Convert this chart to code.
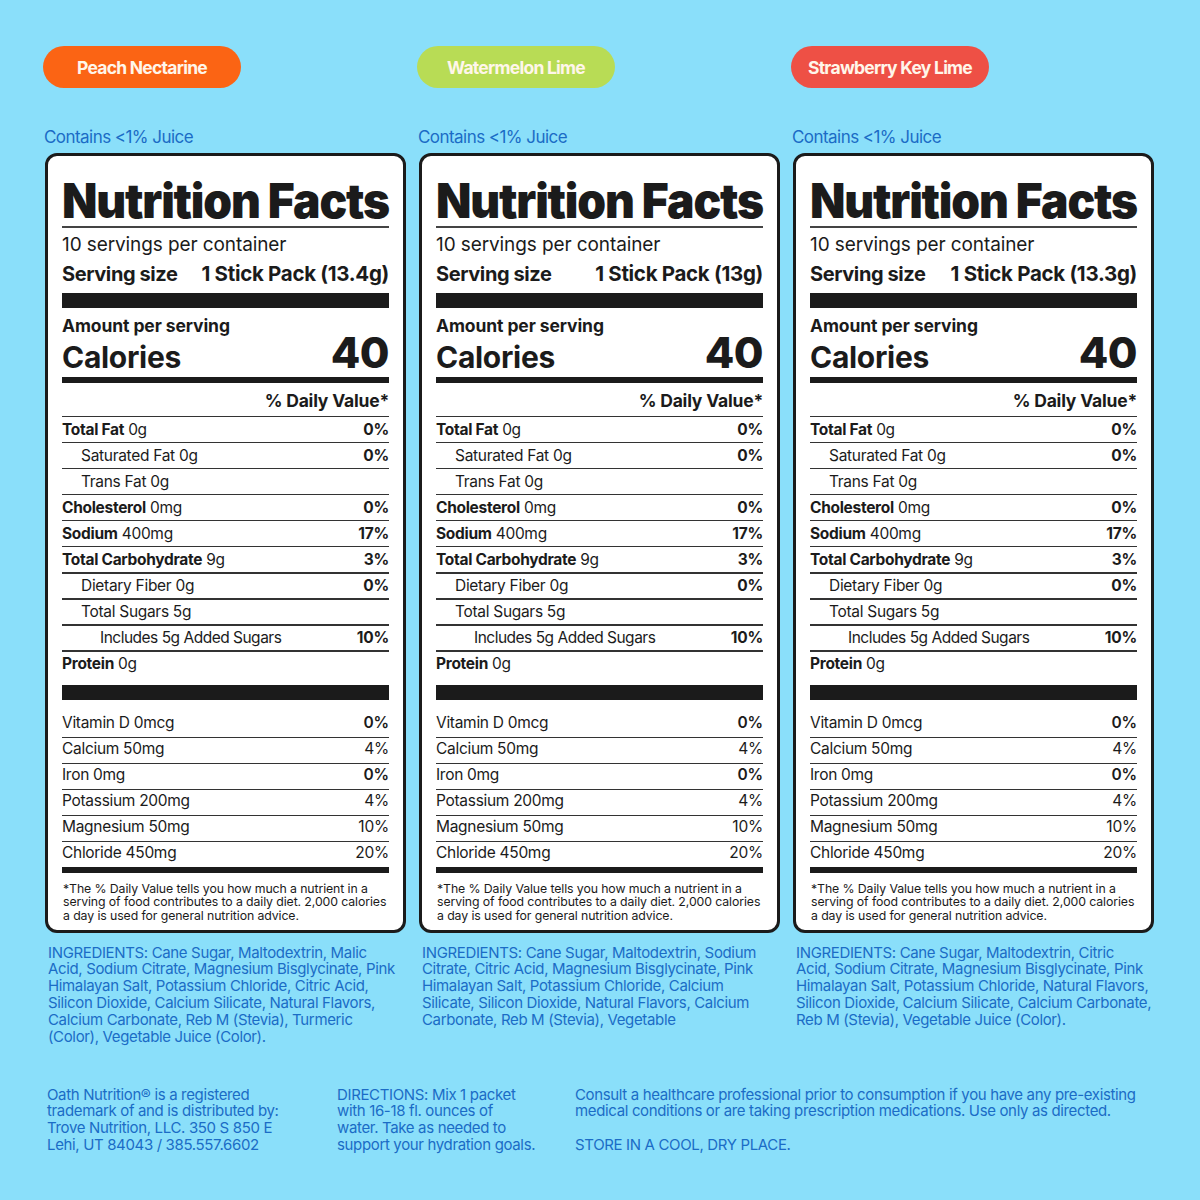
<!DOCTYPE html>
<html>
<head>
<meta charset="utf-8">
<script src="https://cdn.jsdelivr.net/npm/chart.js@4.4.1/dist/chart.umd.min.js"></script>
<style>
    html, body { margin: 0; padding: 0; }
    body { width: 1200px; height: 1200px; background: #8adffa; position: relative; overflow: hidden; font-family: Inter, "Noto Sans", sans-serif; }
    .abs { position: absolute; }
    .t { position: absolute; white-space: nowrap; height: 0; }
    b { font-weight: 700; }
</style>
</head>
<body>
<script>
// label data
const flavors = ['Peach Nectarine', 'Watermelon Lime', 'Strawberry Key Lime'];
const juiceNote = 'Contains <1% Juice';
const servingsText = '10 servings per container';
const servingSizes = ['1 Stick Pack (13.4g)', '1 Stick Pack (13g)', '1 Stick Pack (13.3g)'];
const calories = 40;

const nutrients = ['Total Fat', 'Saturated Fat', 'Trans Fat', 'Cholesterol', 'Sodium', 'Total Carbohydrate', 'Dietary Fiber', 'Total Sugars', 'Includes 5g Added Sugars', 'Protein'];
const nutrientAmounts = ['0g', '0g', '0g', '0mg', '400mg', '9g', '0g', '5g', '', '0g'];
const nutrientDV = ['0%', '0%', '', '0%', '17%', '3%', '0%', '', '10%', ''];
const nutrientLevel = [0, 1, 1, 0, 0, 0, 1, 1, 2, 0];

const minerals = ['Vitamin D', 'Calcium', 'Iron', 'Potassium', 'Magnesium', 'Chloride'];
const mineralAmounts = ['0mcg', '50mg', '0mg', '200mg', '50mg', '450mg'];
const mineralDV = ['0%', '4%', '0%', '4%', '10%', '20%'];

const footnote = [
    '*The % Daily Value tells you how much a nutrient in a',
    'serving of food contributes to a daily diet. 2,000 calories',
    'a day is used for general nutrition advice.'
];

const ingredients = [
    ['INGREDIENTS: Cane Sugar, Maltodextrin, Malic',
     'Acid, Sodium Citrate, Magnesium Bisglycinate, Pink',
     'Himalayan Salt, Potassium Chloride, Citric Acid,',
     'Silicon Dioxide, Calcium Silicate, Natural Flavors,',
     'Calcium Carbonate, Reb M (Stevia), Turmeric',
     '(Color), Vegetable Juice (Color).'],
    ['INGREDIENTS: Cane Sugar, Maltodextrin, Sodium',
     'Citrate, Citric Acid, Magnesium Bisglycinate, Pink',
     'Himalayan Salt, Potassium Chloride, Calcium',
     'Silicate, Silicon Dioxide, Natural Flavors, Calcium',
     'Carbonate, Reb M (Stevia), Vegetable'],
    ['INGREDIENTS: Cane Sugar, Maltodextrin, Citric',
     'Acid, Sodium Citrate, Magnesium Bisglycinate, Pink',
     'Himalayan Salt, Potassium Chloride, Natural Flavors,',
     'Silicon Dioxide, Calcium Silicate, Calcium Carbonate,',
     'Reb M (Stevia), Vegetable Juice (Color).']
];

const companyText = ['Oath Nutrition\u00ae is a registered', 'trademark of and is distributed by:', 'Trove Nutrition, LLC. 350 S 850 E', 'Lehi, UT 84043 / 385.557.6602'];
const directionsText = ['DIRECTIONS: Mix 1 packet', 'with 16-18 fl. ounces of', 'water. Take as needed to', 'support your hydration goals.'];
const warningText = ['Consult a healthcare professional prior to consumption if you have any pre-existing', 'medical conditions or are taking prescription medications. Use only as directed.', '', 'STORE IN A COOL, DRY PLACE.'];

// styles
const pillColors = ['#fb6414', '#b8dc55', '#ee5045'];
const ink = '#1b1b1b';
const blue = '#1b6cc6';
const panelX = [45, 419, 793];

const W = 1200;
const measure = document.createElement('canvas').getContext('2d');

function baseOffset(weight, size) {
    measure.font = `${weight} ${size}px Inter`;
    const m = measure.measureText('Hg');
    return (m.fontBoundingBoxAscent - m.fontBoundingBoxDescent) / 2;
}

function text(html, x, base, size, opts = {}) {
    const weight = opts.weight || 400;
    const el = document.createElement('div');
    el.className = 't';
    el.style.font = `${weight} ${size}px Inter, "Noto Sans", sans-serif`;
    el.style.lineHeight = '0';
    el.style.color = opts.color || ink;
    el.style.letterSpacing = (opts.ls !== undefined ? opts.ls : -0.2) + 'px';
    el.style.top = (base - baseOffset(weight, size)) + 'px';
    if (opts.align === 'right') el.style.right = (W - x) + 'px';
    else el.style.left = x + 'px';
    el.innerHTML = html;
    document.body.appendChild(el);
    return el;
}

function rect(x, y, w, h, color, extra = '') {
    const el = document.createElement('div');
    el.className = 'abs';
    el.style.cssText += `left:${x}px;top:${y}px;width:${w}px;height:${h}px;background:${color};${extra}`;
    document.body.appendChild(el);
    return el;
}

function esc(s) {
    return s.replace(/&/g, '&amp;').replace(/</g, '&lt;');
}

function blueText(line, x, base) {
    return text(line, x, base, 15, { color: blue, ls: -0.35 });
}

function drawPanel(p) {
    const px = panelX[p];
    const L = px + 17;
    const R = px + 344;

    // flavour pill
    const pill = rect(px - 2, 46, 198, 42, pillColors[p], 'border-radius:21px;');
    const pt = document.createElement('div');
    pt.style.cssText = 'width:100%;height:100%;display:flex;align-items:center;justify-content:center;color:#fff6ea;font:700 17.5px Inter, sans-serif;letter-spacing:-0.75px;';
    pt.textContent = flavors[p];
    pill.appendChild(pt);

    text(esc(juiceNote), px - 1, 143, 17, { color: blue, ls: -0.55 });

    // label box
    rect(px, 153, 361, 780, '#fff', `box-sizing:border-box;border:3px solid ${ink};border-radius:12px;`);

    const title = text('Nutrition Facts', L, 218, 48, { weight: 900, ls: -1.2 });
    const tw = title.getBoundingClientRect().width;
    title.style.transformOrigin = '0 0';
    title.style.transform = `scaleX(${327 / tw})`;

    rect(L, 226, 327, 1.5, '#444');
    text(servingsText, L, 251, 19, { ls: -0.1 });
    text('Serving size', L, 281, 20, { weight: 700, ls: -0.4 });
    text(servingSizes[p], R, 281, 20.5, { weight: 700, ls: -0.3, align: 'right' });
    rect(L, 293, 327, 15, ink);

    text('Amount per serving', L, 332, 17.5, { weight: 700, ls: -0.1 });
    text('Calories', L, 368, 30, { weight: 700, ls: -0.3 });
    text(String(calories), R, 368, 43, { weight: 800, ls: -0.5, align: 'right' });
    rect(L, 377, 327, 5.5, ink);
    text('% Daily Value*', R, 407, 17.5, { weight: 700, ls: -0.2, align: 'right' });
    rect(L, 415.5, 327, 1.5, '#333');

    nutrients.forEach((name, i) => {
        const base = 435 + 26.1 * i;
        const lvl = nutrientLevel[i];
        const label = lvl === 0 ? `<b>${name}</b>` : name;
        const amt = nutrientAmounts[i] ? '&nbsp;' + nutrientAmounts[i] : '';
        text(label + amt, L + lvl * 19, base, 15.5, { ls: lvl === 2 ? -0.5 : -0.3 });
        if (nutrientDV[i]) text(nutrientDV[i], R, base, 15.5, { weight: 700, ls: -0.2, align: 'right' });
        if (i < nutrients.length - 1) rect(L, base + 6.5, 327, 1.5, '#333');
    });
    rect(L, 685, 327, 15, ink);

    minerals.forEach((name, i) => {
        const base = 728 + 26 * i;
        text(name + ' ' + mineralAmounts[i], L, base, 15.5, { ls: -0.3 });
        const bold = mineralDV[i] === '0%';
        text(mineralDV[i], R, base, 15.5, { weight: bold ? 600 : 400, ls: -0.2, align: 'right' });
        if (i < minerals.length - 1) rect(L, base + 8.5, 327, 1.5, '#333');
    });
    rect(L, 867, 327, 5.5, ink);

    footnote.forEach((line, i) => {
        text(line, L + 1, 893 + 13.5 * i, 12.3, { ls: -0.1 });
    });

    ingredients[p].forEach((line, i) => blueText(line, px + 3, 958 + 16.9 * i));
}

[0, 1, 2].forEach(drawPanel);

companyText.forEach((line, i) => blueText(line, 47, 1100 + 16.9 * i));
directionsText.forEach((line, i) => blueText(line, 337, 1100 + 16.9 * i));
warningText.forEach((line, i) => { if (line) blueText(line, 575, 1100 + 16.9 * i); });
</script>
</body>
</html>
